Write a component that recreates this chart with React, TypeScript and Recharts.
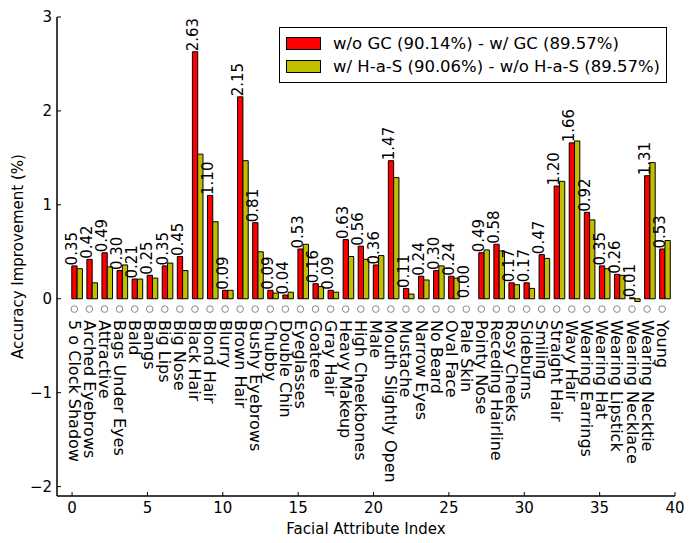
import { ComposedChart, Bar, Scatter, XAxis, YAxis, Legend } from "recharts";

const attributes = [
  "5 o Clock Shadow", "Arched Eyebrows", "Attractive", "Bags Under Eyes", "Bald",
  "Bangs", "Big Lips", "Big Nose", "Black Hair", "Blond Hair",
  "Blurry", "Brown Hair", "Bushy Eyebrows", "Chubby", "Double Chin",
  "Eyeglasses", "Goatee", "Gray Hair", "Heavy Makeup", "High Cheekbones",
  "Male", "Mouth Slightly Open", "Mustache", "Narrow Eyes", "No Beard",
  "Oval Face", "Pale Skin", "Pointy Nose", "Receding Hairline", "Rosy Cheeks",
  "Sideburns", "Smiling", "Straight Hair", "Wavy Hair", "Wearing Earrings",
  "Wearing Hat", "Wearing Lipstick", "Wearing Necklace", "Wearing Necktie", "Young",
];

// w/o GC - w/ GC
const gcDiff = [
  0.35, 0.42, 0.49, 0.30, 0.21, 0.25, 0.35, 0.45, 2.63, 1.10,
  0.09, 2.15, 0.81, 0.09, 0.04, 0.53, 0.16, 0.09, 0.63, 0.56,
  0.36, 1.47, 0.11, 0.24, 0.30, 0.24, 0.00, 0.49, 0.58, 0.17,
  0.17, 0.47, 1.20, 1.66, 0.92, 0.35, 0.26, 0.01, 1.31, 0.53,
];

// w/ H-a-S - w/o H-a-S
const hasDiff = [
  0.32, 0.17, 0.34, 0.36, 0.21, 0.22, 0.38, 0.30, 1.54, 0.82,
  0.09, 1.47, 0.50, 0.06, 0.07, 0.58, 0.13, 0.07, 0.45, 0.42,
  0.46, 1.29, 0.05, 0.20, 0.35, 0.22, 0.00, 0.52, 0.51, 0.15,
  0.11, 0.43, 1.25, 1.68, 0.84, 0.32, 0.25, -0.03, 1.45, 0.62,
];

const seriesNames = ["w/o GC (90.14%) - w/ GC (89.57%)", "w/ H-a-S (90.06%) - w/o H-a-S (89.57%)"];
const xTicks = [0, 5, 10, 15, 20, 25, 30, 35, 40];
const yTicks = [-2, -1, 0, 1, 2, 3];

const FONT = "'DejaVu Sans', sans-serif";

// bar pair for attribute i spans [i, i + 0.7]
const data = attributes.map((name, i) => ({ name, pos: i + 0.35, gc: gcDiff[i], has: hasDiff[i] }));
// circle marker + name just under the zero line (drawn against the top axis, same scale)
const markers = attributes.map((name, i) => ({ name, pos: i + 0.15, mark: -0.11 }));
// red value written above the left edge of each pair
const valueLabels = gcDiff.map((v, i) => ({ pos: i, val: v }));

const ValueText = (props: any) => {
  const { cx, cy, payload } = props;
  const ty = cy - 0.5;
  return (
    <text x={cx} y={ty} transform={`rotate(-90 ${cx} ${ty})`} textAnchor="start" dominantBaseline="central"
      fontSize={15} fontFamily={FONT} fill="#000">
      {payload.val.toFixed(2)}
    </text>
  );
};

const NameMarker = (props: any) => {
  const { cx, cy, payload } = props;
  const ty = cy + 11;
  return (
    <g>
      <circle cx={cx} cy={cy} r={3.3} fill="none" stroke="#888" strokeWidth={1} />
      <text x={cx} y={ty} transform={`rotate(90 ${cx} ${ty})`} textAnchor="start" dominantBaseline="central"
        fontSize={16} fontFamily={FONT} fill="#000">
        {payload.name}
      </text>
    </g>
  );
};

const LegendBox = (props: any) => {
  const items = (props.payload || [])
    .filter((p: any) => seriesNames.includes(p.value))
    .sort((a: any, b: any) => seriesNames.indexOf(a.value) - seriesNames.indexOf(b.value));
  return (
    <div style={{ border: "1.5px solid #000", background: "#fff", padding: "4px 6px", fontFamily: FONT, fontSize: 16.5, boxSizing: "border-box" }}>
      {items.map((p: any) => (
        <div key={p.value} style={{ display: "flex", alignItems: "center", height: 23 }}>
          <span style={{ display: "inline-block", width: 33, height: 11, background: p.color, border: "1px solid #000", marginRight: 12 }} />
          <span>{p.value}</span>
        </div>
      ))}
    </div>
  );
};

const minus = (v: number) => (v < 0 ? `\u2212${-v}` : `${v}`);

export default function App() {
  const axisLine = { stroke: "#000", strokeWidth: 1.5 };
  return (
    <div style={{ width: 690, height: 543, position: "relative", background: "#fff" }}>
      <style>{"body{margin:0}"}</style>
      <ComposedChart width={690} height={543} data={data} barGap={0}
        margin={{ top: 17, right: 15, bottom: 7, left: 12 }}>
        <XAxis type="number" dataKey="pos" domain={[-1, 40]} ticks={xTicks} allowDataOverflow
          height={40} tickSize={-4} tickMargin={10} axisLine={axisLine} tickLine={{ stroke: "#000" }}
          tick={{ fill: "#000", fontSize: 15, fontFamily: FONT }}
          label={{ value: "Facial Attribute Index", position: "insideBottom", offset: 2, fill: "#000", fontSize: 15, fontFamily: FONT }} />
        <XAxis xAxisId="top" orientation="top" type="number" dataKey="pos" domain={[-1, 40]} ticks={xTicks} allowDataOverflow
          height={0} tickSize={-4} axisLine={axisLine} tickLine={{ stroke: "#000" }} tick={false} />
        <YAxis type="number" domain={[-2.1, 3]} ticks={yTicks} allowDataOverflow width={45}
          tickSize={-4} tickMargin={9} axisLine={axisLine} tickLine={{ stroke: "#000" }} tickFormatter={minus}
          tick={{ fill: "#000", fontSize: 15, fontFamily: FONT }}
          label={{ value: "Accuracy Improvement (%)", angle: -90, position: "insideLeft", offset: 6, fill: "#000", fontSize: 15, fontFamily: FONT, style: { textAnchor: "middle" } }} />
        <YAxis yAxisId="right" orientation="right" type="number" domain={[-2.1, 3]} ticks={yTicks} allowDataOverflow
          width={0} tickSize={-4} axisLine={axisLine} tickLine={{ stroke: "#000" }} tick={false} />
        <Bar dataKey="gc" name={seriesNames[0]} fill="#ff0000" stroke="#000" strokeWidth={1} barSize={5.3} isAnimationActive={false} />
        <Bar dataKey="has" name={seriesNames[1]} fill="#bfbf00" stroke="#000" strokeWidth={1} barSize={5.3} isAnimationActive={false} />
        <Scatter xAxisId="top" data={valueLabels} dataKey="val" legendType="none" shape={ValueText} isAnimationActive={false} />
        <Scatter xAxisId="top" data={markers} dataKey="mark" legendType="none" shape={NameMarker} isAnimationActive={false} />
        <Legend layout="horizontal" verticalAlign="middle" align="center" content={LegendBox}
          wrapperStyle={{ position: "absolute", left: 279, top: 27, width: 388 }} />
      </ComposedChart>
    </div>
  );
}
